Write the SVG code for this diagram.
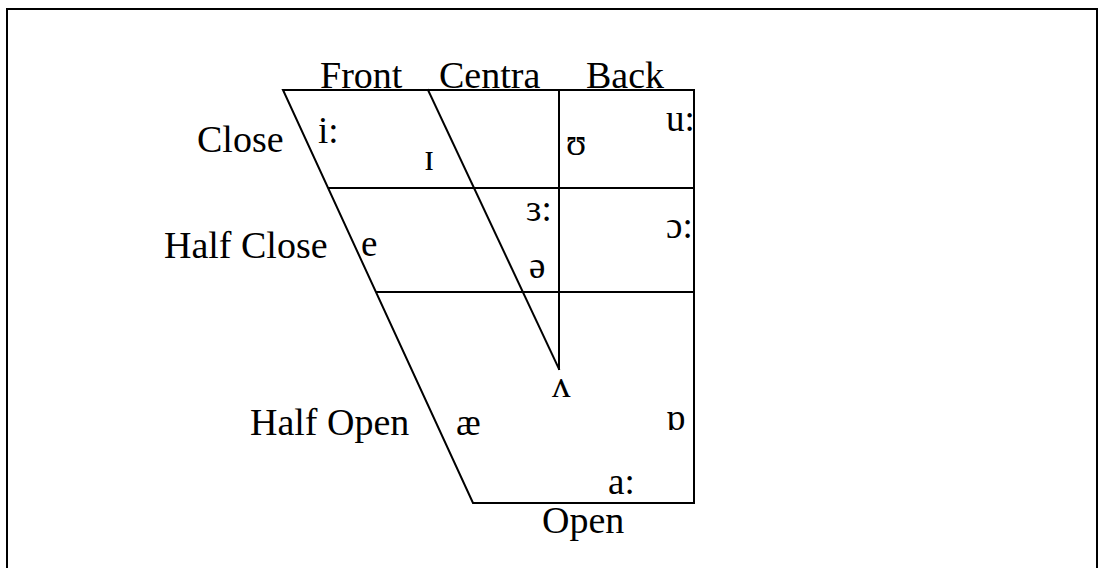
<svg xmlns="http://www.w3.org/2000/svg" width="1105" height="568" viewBox="0 0 1105 568">
<style>
.ln{stroke:#000;stroke-width:2;fill:none;stroke-linecap:square}
.t{font-family:"Liberation Serif","Times New Roman",serif;font-size:38px;fill:#000}
.v{font-family:"Liberation Serif","Times New Roman",serif;font-size:37px;fill:#000}
</style>
<rect x="0" y="0" width="1105" height="568" fill="#fff"/>
<rect id="frame" x="7" y="9" width="1090" height="600" class="ln"/>
<g id="connectors">
<path class="ln" d="M283,90 L694,90 L694,503 L473,503 Z"/>
<path class="ln" d="M329,188 L694,188"/>
<path class="ln" d="M377,292 L694,292"/>
<path class="ln" d="M559,90 L559,369"/>
<path class="ln" d="M428,90 L559,369"/>
</g>
<g id="labels">
<text id="front" class="t" x="320" y="88">Front</text>
<text id="centra" class="t" x="439" y="88">Centra</text>
<text id="back" class="t" x="586" y="88">Back</text>
<text id="close" class="t" x="197" y="152">Close</text>
<text id="halfclose" class="t" x="164" y="258">Half Close</text>
<text id="halfopen" class="t" x="250" y="435">Half Open</text>
<text id="open" class="t" x="542" y="533">Open</text>
</g>
<g id="vowels">
<text class="v" x="318" y="143">i:</text>
<text class="v" x="424" y="170">ɪ</text>
<text class="v" x="566" y="155">ʊ</text>
<text class="v" x="666" y="131">u:</text>
<text class="v" x="361" y="256">e</text>
<text class="v" x="526" y="221">ɜ:</text>
<text class="v" x="529" y="278">ə</text>
<text class="v" x="666" y="238">ɔ:</text>
<text class="v" x="552" y="397">ʌ</text>
<text class="v" x="456" y="435">æ</text>
<text class="v" x="666" y="430">ɒ</text>
<text class="v" x="608" y="494">a:</text>
</g>
</svg>
